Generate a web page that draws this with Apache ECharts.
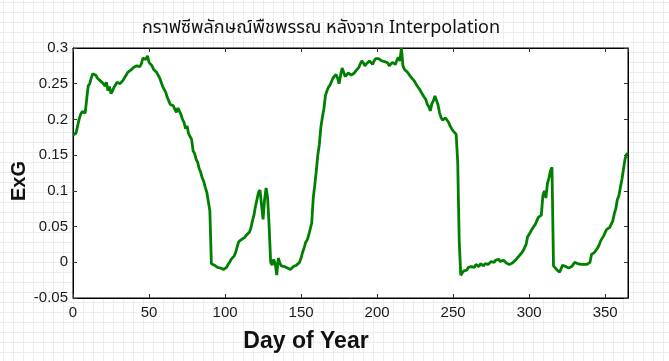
<!DOCTYPE html>
<html><head><meta charset="utf-8">
<script src="https://cdn.jsdelivr.net/npm/echarts@6/dist/echarts.min.js"></script>
<style>
html,body{margin:0;padding:0;background:#fff;}
#c{width:669px;height:361px;background-color:#fff;
background-image:linear-gradient(#ededed 1px, transparent 1px),linear-gradient(90deg,#ededed 1px, transparent 1px);
background-size:10px 10px;background-position:3px 2px;}
</style></head><body>
<div id="c"></div>
<script>
const titleText = 'กราฟซีพลักษณ์พืชพรรณ หลังจาก Interpolation';
const xName = 'Day of Year';
const yName = 'ExG';
const xTicks = [0, 50, 100, 150, 200, 250, 300, 350];
const yTicks = [-0.05, 0, 0.05, 0.1, 0.15, 0.2, 0.25, 0.3];
// ExG value for each day of year, day 0 .. 365
const exg = [
0.178,0.176,0.181,0.183,0.200,0.207,0.211,0.212,0.209,0.228,
0.247,0.250,0.258,0.264,0.263,0.262,0.258,0.260,0.254,0.255,
0.250,0.247,0.252,0.240,0.246,0.236,0.240,0.245,0.247,0.252,
0.254,0.250,0.249,0.255,0.259,0.262,0.266,0.264,0.269,0.270,
0.273,0.271,0.275,0.276,0.274,0.278,0.286,0.288,0.284,0.289,
0.280,0.278,0.275,0.270,0.271,0.266,0.264,0.258,0.252,0.246,
0.245,0.238,0.231,0.226,0.221,0.220,0.219,0.214,0.210,0.216,
0.214,0.207,0.200,0.196,0.187,0.191,0.180,0.182,0.172,0.156,
0.152,0.144,0.140,0.131,0.126,0.118,0.113,0.105,0.098,0.085,
0.072,-0.002,-0.003,-0.004,-0.005,-0.007,-0.007,-0.008,-0.010,-0.010,
-0.011,-0.007,-0.003,0.000,0.004,0.006,0.009,0.014,0.022,0.029,
0.031,0.032,0.034,0.035,0.038,0.040,0.042,0.048,0.058,0.066,
0.078,0.088,0.098,0.101,0.080,0.060,0.088,0.104,0.090,0.050,
0.000,-0.004,0.004,-0.002,-0.018,0.006,-0.001,-0.005,-0.003,-0.006,
-0.005,-0.008,-0.007,-0.010,-0.008,-0.006,-0.007,-0.004,-0.003,0.000,
0.006,0.014,0.020,0.028,0.031,0.038,0.036,0.055,0.090,0.108,
0.128,0.150,0.165,0.189,0.203,0.215,0.233,0.240,0.245,0.248,
0.250,0.258,0.260,0.263,0.258,0.250,0.262,0.272,0.266,0.260,
0.262,0.265,0.266,0.262,0.261,0.265,0.268,0.270,0.273,0.278,
0.282,0.279,0.275,0.278,0.280,0.282,0.284,0.277,0.282,0.285,
0.287,0.285,0.284,0.282,0.280,0.281,0.282,0.279,0.275,0.277,
0.280,0.279,0.277,0.283,0.287,0.282,0.300,0.275,0.270,0.268,
0.266,0.265,0.260,0.258,0.255,0.252,0.248,0.245,0.242,0.238,
0.236,0.231,0.228,0.221,0.218,0.212,0.222,0.226,0.233,0.235,
0.221,0.210,0.203,0.199,0.198,0.202,0.200,0.196,0.191,0.187,
0.184,0.182,0.179,0.140,0.030,-0.018,-0.015,-0.012,-0.010,-0.011,
-0.007,-0.009,-0.006,-0.005,-0.007,-0.003,-0.003,-0.006,-0.002,-0.004,
-0.005,-0.002,-0.004,-0.003,-0.001,0.001,0.002,0.000,0.003,0.002,
0.004,0.001,0.000,0.003,0.002,-0.001,-0.003,-0.003,-0.002,-0.001,
0.000,0.003,0.005,0.008,0.009,0.013,0.016,0.018,0.025,0.036,
0.039,0.043,0.045,0.050,0.053,0.058,0.063,0.065,0.066,0.093,
0.100,0.090,0.110,0.118,0.128,0.133,-0.005,-0.006,-0.010,-0.008,
-0.014,-0.009,-0.004,-0.003,-0.006,-0.005,-0.008,-0.010,-0.006,-0.003,
0.000,-0.001,-0.002,-0.002,-0.003,-0.003,-0.003,-0.002,-0.003,-0.003,
0.000,0.011,0.012,0.014,0.016,0.020,0.024,0.030,0.032,0.037,
0.042,0.046,0.047,0.049,0.049,0.058,0.068,0.075,0.088,0.093,
0.105,0.116,0.130,0.144,0.151,0.153
];
const days = exg.map((v, i) => i);

const chart = echarts.init(document.getElementById('c'), null, {renderer: 'canvas'});
const labelFont = {fontFamily: "'Liberation Sans', Arial, sans-serif", fontSize: 15, color: '#1a1a1a'};
const tickStyle = {show: true, inside: true, length: 4, lineStyle: {color: '#333', width: 1}};
const lineAxis = {show: true, onZero: false, lineStyle: {color: '#000'}};
const fmtX = v => xTicks.indexOf(Math.round(v)) >= 0 ? String(Math.round(v)) : '';
const fmtY = v => { const r = Math.round(v * 100) / 100; return yTicks.indexOf(r) >= 0 ? String(r) : ''; };
chart.setOption({
  backgroundColor: 'transparent',
  animation: false,
  grid: {left: 73, right: 41, top: 48, bottom: 63, show: true, backgroundColor: '#fff', borderColor: '#000', borderWidth: 1, containLabel: false},
  xAxis: [
    {type: 'value', min: 0, max: 365, interval: 50, position: 'bottom',
     axisLine: lineAxis, axisTick: tickStyle, splitLine: {show: false},
     axisLabel: Object.assign({margin: 7, showMaxLabel: false, formatter: fmtX}, labelFont)},
    {type: 'value', min: 0, max: 365, interval: 50, position: 'top',
     axisLine: lineAxis, axisTick: tickStyle, splitLine: {show: false},
     axisLabel: {show: false}}
  ],
  yAxis: [
    {type: 'value', min: -0.05, max: 0.3, interval: 0.05, position: 'left',
     axisLine: lineAxis, axisTick: tickStyle, splitLine: {show: false},
     axisLabel: Object.assign({margin: 5, formatter: fmtY}, labelFont)},
    {type: 'value', min: -0.05, max: 0.3, interval: 0.05, position: 'right',
     axisLine: lineAxis, axisTick: tickStyle, splitLine: {show: false},
     axisLabel: {show: false}}
  ],
  graphic: [
    {type: 'text', x: 321, y: 29, style: {text: titleText, textAlign: 'center', textVerticalAlign: 'middle',
      font: "18px Tahoma, 'Noto Sans Thai', 'Noto Sans', 'DejaVu Sans', sans-serif", fill: '#111'}},
    {type: 'text', x: 306, y: 342, style: {text: xName, textAlign: 'center', textVerticalAlign: 'middle',
      font: "bold 23px 'Liberation Sans', Arial, sans-serif", fill: '#111'}},
    {type: 'text', x: 19, y: 181, rotation: Math.PI / 2, style: {text: yName, textAlign: 'center', textVerticalAlign: 'middle',
      font: "bold 20px 'Liberation Sans', Arial, sans-serif", fill: '#111'}}
  ],
  series: [{
    type: 'line', xAxisIndex: 0, yAxisIndex: 0,
    data: days.map((d, i) => [d, exg[i]]),
    showSymbol: false, symbol: 'none',
    lineStyle: {color: '#008000', width: 2.8},
    clip: false
  }]
});
</script></body></html>
